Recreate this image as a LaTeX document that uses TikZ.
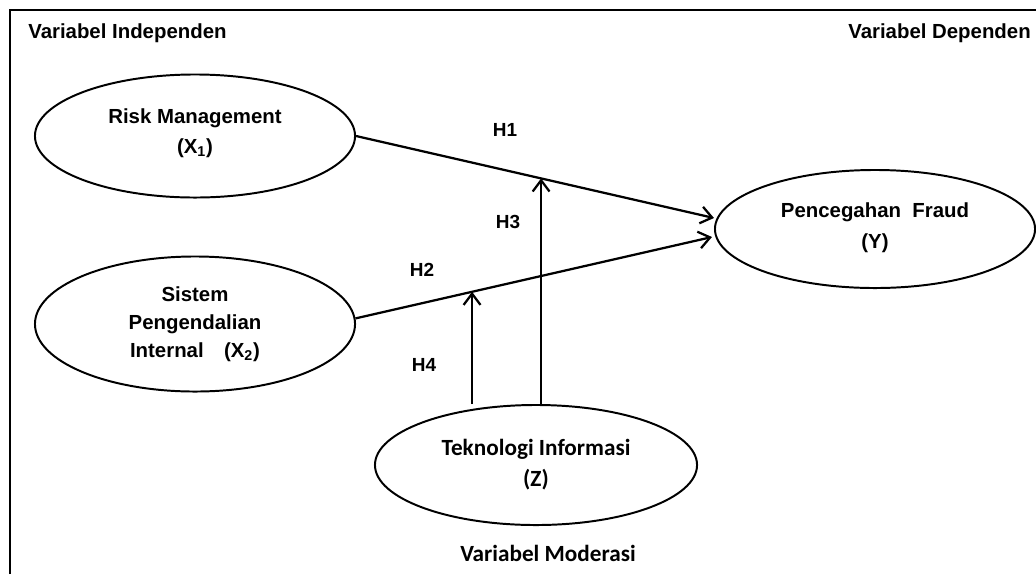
\documentclass[tikz,border=0pt]{standalone}
\usepackage{fontspec}
\setmainfont{Liberation Sans}
\newfontfamily\calibrifont{Carlito}
\usetikzlibrary{positioning,shapes.geometric,calc,arrows.meta}
\pgfdeclarelayer{background}
\pgfsetlayers{background,main}
\tikzset{
    var ellipse/.style={
        ellipse,
        draw=black,
        line width=1.4pt,
        fill=white,
        inner sep=0pt,
        align=center,
        font=\fontsize{14.5}{22}\selectfont\bfseries,
    },
    var heading/.style={font=\fontsize{14.5}{22}\selectfont\bfseries, inner sep=0pt},
    hyp label/.style={font=\fontsize{13.5}{16}\selectfont\bfseries, inner sep=0pt},
    hyp arrow/.style={->, line width=1.6pt},
}

\begin{document}
\begin{tikzpicture}[x=0.025cm,y=-0.025cm,>={Straight Barb[length=8pt,width=12pt]}]
    \useasboundingbox (0,0) rectangle (1036,574);
    %frame (cut off at right and bottom)
    \draw[line width=2pt] (10,574) -- (10,10) -- (1036,10);

    \node[var heading,anchor=west] (head-ind) at (28,33) {Variabel Independen};
    \node[var heading,anchor=east] (head-dep) at (1031,33) {Variabel Dependen};
    \node[var heading,font=\fontsize{16.5}{22}\selectfont\calibrifont\bfseries] (head-mod) at (548,553) {Variabel Moderasi};

    \node[var ellipse,minimum width=8cm,minimum height=3.075cm] (x1) at (195,136) {Risk Management\\(X\textsubscript{1})\\[-15pt]};
    \node[var ellipse,minimum width=8cm,minimum height=3.375cm,font=\fontsize{14.5}{20}\selectfont\bfseries] (x2) at (195,324) {Sistem\\Pengendalian\\Internal\quad(X\textsubscript{2})};
    \node[var ellipse,minimum width=8cm,minimum height=2.95cm] (y) at (875,229) {Pencegahan\ \ Fraud\\(Y)\\[-17pt]};
    \node[var ellipse,minimum width=8.05cm,minimum height=3cm,font=\fontsize{16.5}{22}\selectfont\calibrifont\bfseries] (z) at (536,465) {Teknologi Informasi\\(Z)};

    \coordinate (y-in1) at ($(y.west)+(0,-11)$);
    \coordinate (y-in2) at ($(y.west)+(-2,8)$);
    \coordinate (h3-end) at ($(x1.east)!0.517!(y-in1)$);
    \coordinate (h4-end) at ($(x2.2)!0.327!(y-in2)$);

    \begin{pgfonlayer}{background}
        \draw[hyp arrow] (x1.east) -- (y-in1);
        \draw[hyp arrow] (x2.2) -- (y-in2);
        \draw[hyp arrow] (z.north -| h3-end) -- (h3-end);
        \draw[hyp arrow] (z.north -| h4-end) -- (h4-end);
    \end{pgfonlayer}

    \node[hyp label] (h1) at (505,130) {H1};
    \node[hyp label] (h2) at (422,270) {H2};
    \node[hyp label] (h3) at (508,222) {H3};
    \node[hyp label] (h4) at (424,365) {H4};
\end{tikzpicture}
\end{document}
